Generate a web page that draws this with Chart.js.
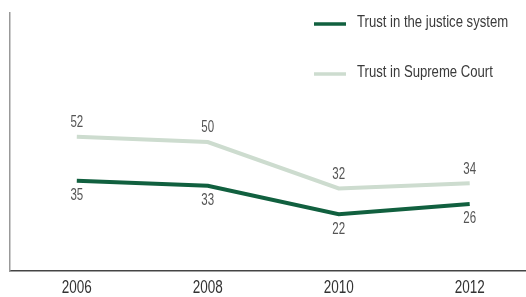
<!DOCTYPE html>
<html>
<head>
<meta charset="utf-8">
<script src="https://cdn.jsdelivr.net/npm/chart.js@4.4.0/dist/chart.umd.min.js"></script>
<style>
  body { margin: 0; background: #fff; }
  #wrap { width: 526px; height: 297px; position: relative; }
</style>
</head>
<body>
<div id="wrap"><canvas id="grafico"></canvas></div>
<script>
// data
var anos = [2006, 2008, 2010, 2012];
var justica = [35, 33, 22, 26];
var supremo = [52, 50, 32, 34];
var nomes = ['Trust in the justice system', 'Trust in Supreme Court'];

var fonte = '"Liberation Sans", Arial, sans-serif';

function pares(vals) {
  return anos.map(function (a, i) { return { x: a, y: vals[i] }; });
}

// narrow text: Liberation Sans squeezed sideways
function texto(ctx, t, x, y, esc) {
  ctx.save();
  ctx.translate(x, y);
  ctx.scale(esc, 1);
  ctx.fillText(t, 0, 0);
  ctx.restore();
}

// year labels under the axis, at the x scale ticks
var anosEixo = {
  id: 'anosEixo',
  afterDraw: function (chart) {
    var ctx = chart.ctx, sx = chart.scales.x;
    ctx.save();
    ctx.font = '18px ' + fonte;
    ctx.fillStyle = '#333';
    ctx.textAlign = 'center';
    ctx.textBaseline = 'middle';
    sx.ticks.forEach(function (t) {
      texto(ctx, String(t.value), sx.getPixelForValue(t.value), sx.top + 17, 0.75);
    });
    ctx.restore();
  }
};

// numbers next to each point
var rotulos = {
  id: 'rotulos',
  afterDatasetsDraw: function (chart) {
    var ctx = chart.ctx;
    ctx.save();
    ctx.font = '16px ' + fonte;
    ctx.fillStyle = '#555';
    ctx.textAlign = 'center';
    ctx.textBaseline = 'middle';
    chart.data.datasets.forEach(function (ds, i) {
      var meta = chart.getDatasetMeta(i);
      var desl = ds.rotulo == 'acima' ? -14 : 15;
      meta.data.forEach(function (p, j) {
        texto(ctx, String(ds.data[j].y), p.x, p.y + desl, 0.72);
      });
    });
    ctx.restore();
  }
};

// legend in the top right corner
var legenda = {
  id: 'legenda',
  afterDraw: function (chart) {
    var ctx = chart.ctx;
    ctx.save();
    ctx.font = '16px ' + fonte;
    ctx.textBaseline = 'middle';
    chart.data.datasets.forEach(function (ds, i) {
      var y = 24 + i * 50;
      ctx.strokeStyle = ds.borderColor;
      ctx.lineWidth = 3.5;
      ctx.beginPath();
      ctx.moveTo(314, y);
      ctx.lineTo(346, y);
      ctx.stroke();
      ctx.fillStyle = '#3a3a3a';
      texto(ctx, ds.label, 357, y - 1, 0.82);
    });
    ctx.restore();
  }
};

var ctx = document.getElementById('grafico');
new Chart(ctx, {
  type: 'line',
  data: {
    datasets: [{
      label: nomes[0],
      data: pares(justica),
      borderColor: '#11603f',
      borderWidth: 4,
      pointRadius: 0,
      tension: 0,
      rotulo: 'abaixo'
    }, {
      label: nomes[1],
      data: pares(supremo),
      borderColor: '#cddccf',
      borderWidth: 4,
      pointRadius: 0,
      tension: 0,
      rotulo: 'acima'
    }]
  },
  options: {
    responsive: true,
    maintainAspectRatio: false,
    animation: false,
    layout: { padding: { left: 10, top: 13, right: 0, bottom: 0 } },
    plugins: {
      legend: { display: false },
      tooltip: { enabled: false }
    },
    scales: {
      x: {
        type: 'linear',
        min: 2004.98,
        max: 2012.86,
        afterBuildTicks: function (s) {
          s.ticks = anos.map(function (a) { return { value: a }; });
        },
        afterFit: function (s) { s.height = 26; },
        grid: { display: false, drawTicks: false },
        border: { color: '#444', width: 1.5 },
        ticks: { display: false }
      },
      y: {
        min: 0,
        max: 100,
        grid: { display: false, drawTicks: false },
        border: { color: '#999', width: 1.5 },
        ticks: { display: false },
        afterFit: function (s) { s.width = 0; }
      }
    }
  },
  plugins: [rotulos, legenda, anosEixo]
});
</script>
</body>
</html>
